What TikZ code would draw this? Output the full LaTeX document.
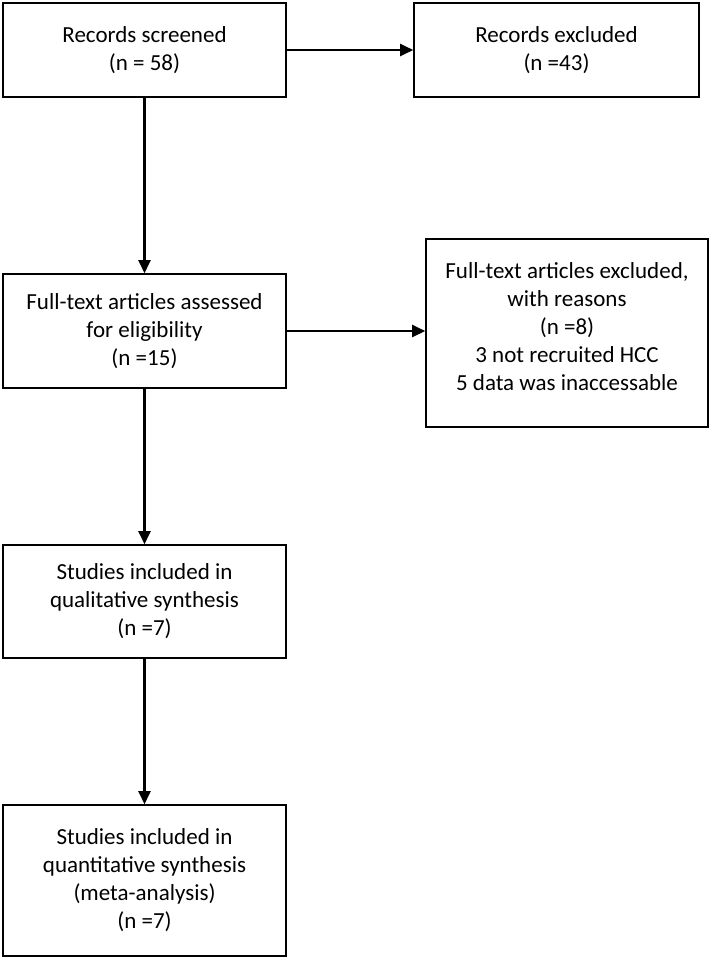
\documentclass[tikz,border=0pt]{standalone}
\usepackage{fontspec}
\setmainfont{Carlito}
\usetikzlibrary{arrows.meta}
\begin{document}
\begin{tikzpicture}[x=1pt,y=-1pt,
  box/.style={draw,line width=1.6pt,align=center,inner sep=0pt,minimum width=283pt,font=\fontsize{23}{28}\selectfont},
  arr/.style={line width=2.4pt,-{Triangle[length=13pt,width=12pt]}}]
\useasboundingbox (0,0) rectangle (712,959);

%Screening
\node[box,minimum height=94pt] (screened) at (144.5,50) {Records screened\\(n = 58)};
\node[box,minimum height=94pt,minimum width=285pt] (excluded) at (556.5,50) {Records excluded\\(n =43)};

%Eligibility
\node[box,minimum height=114pt] (fulltext) at (144.5,331) {Full-text articles assessed\\for eligibility\\(n =15)};
\node[box,minimum height=188pt,minimum width=282pt] (reasons) at (567,333) {Full-text articles excluded,\\with reasons\\(n =8)\\3 not recruited HCC\\5 data was inaccessable\\[-15pt]};

%Included
\node[box,minimum height=113pt] (quali) at (144.5,601.5) {Studies included in\\qualitative synthesis\\(n =7)};
\node[box,minimum height=151pt] (quanti) at (144.5,880.5) {Studies included in\\quantitative synthesis\\(meta-analysis)\\(n =7)};

\draw[arr] (screened) -- (excluded);
\draw[arr] (screened) -- (fulltext);
\draw[arr] (fulltext.east) -- (fulltext.east -| reasons.west);
\draw[arr] (fulltext) -- (quali);
\draw[arr] (quali) -- (quanti);

\end{tikzpicture}
\end{document}
